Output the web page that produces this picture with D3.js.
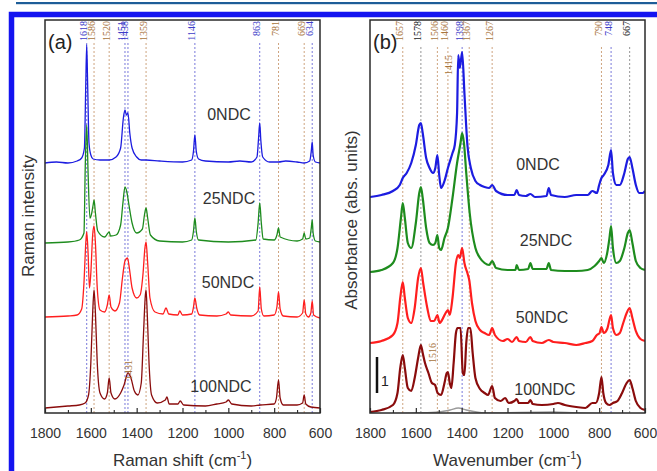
<!DOCTYPE html>
<html><head><meta charset="utf-8">
<script src="https://cdn.jsdelivr.net/npm/d3@7"></script>
<style>body{margin:0;background:#fff}svg{display:block}</style>
</head><body>
<svg id="c" width="657" height="471"></svg>
<script>
// ---------------- DATA ----------------
const xTicksMajor = [1800,1600,1400,1200,1000,800,600];
const xTicksMinor = [1700,1500,1300,1100,900,700];
const seriesNames = ["0NDC","25NDC","50NDC","100NDC"];

// Panel (a) Raman spectra: [Raman shift, stacked intensity]
const ramanNDC0 = [[1800,250],[1750,251],[1700,250],[1660,252],[1640,255],[1628,265],[1622,330],[1618,368],[1614,330],[1608,270],[1600,258],[1590,254],[1560,253],[1520,253],[1490,256],[1470,265],[1458,295],[1451,303],[1445,298],[1438,300],[1430,280],[1420,265],[1400,256],[1380,253],[1359,253],[1300,252],[1200,251],[1160,253],[1152,262],[1146,278],[1140,262],[1130,254],[1100,252],[1000,251],[950,252],[900,251],[875,256],[868,275],[863,290],[858,272],[850,256],[820,251],[781,251],[750,252],[700,251],[669,250],[645,252],[638,262],[634,271],[630,258],[620,251],[600,250]];
const ramanNDC25 = [[1800,170],[1700,171],[1650,173],[1630,180],[1624,250],[1618,288],[1612,240],[1604,195],[1596,200],[1590,208],[1586,213],[1580,200],[1570,182],[1540,176],[1525,180],[1520,181],[1514,177],[1490,178],[1470,188],[1460,210],[1451,226],[1442,220],[1435,210],[1420,190],[1400,180],[1375,184],[1366,198],[1359,205],[1352,195],[1340,178],[1300,172],[1200,171],[1160,173],[1152,182],[1146,195],[1140,182],[1130,173],[1000,171],[880,173],[870,190],[863,210],[856,190],[848,174],[800,173],[788,178],[781,185],[774,176],[700,172],[676,174],[669,180],[662,174],[645,175],[638,185],[634,193],[630,180],[620,172],[600,171]];
const ramanNDC50 = [[1800,96],[1700,97],[1660,98],[1640,104],[1630,130],[1622,170],[1618,181],[1612,160],[1606,125],[1600,140],[1592,178],[1586,187],[1580,170],[1572,125],[1560,103],[1540,101],[1528,108],[1520,118],[1512,106],[1495,102],[1475,110],[1462,135],[1451,152],[1440,155],[1432,145],[1420,125],[1400,115],[1385,118],[1372,140],[1364,165],[1359,171],[1352,150],[1342,115],[1320,101],[1285,99],[1272,105],[1260,99],[1220,98],[1212,102],[1200,98],[1160,99],[1152,106],[1146,115],[1138,105],[1125,98],[1050,97],[1010,99],[1000,101],[990,98],[900,97],[870,102],[863,126],[856,104],[845,97],[800,98],[788,106],[781,121],[774,104],[760,97],[700,96],[676,100],[669,113],[662,99],[650,96],[640,100],[634,112],[628,98],[600,95]];
const ramanNDC100 = [[1800,5],[1700,7],[1650,8],[1625,10],[1610,18],[1600,50],[1592,100],[1586,123],[1580,100],[1572,50],[1560,20],[1540,14],[1528,20],[1520,35],[1512,20],[1495,14],[1470,20],[1455,28],[1438,40],[1425,35],[1410,22],[1395,18],[1380,30],[1370,80],[1362,118],[1359,123],[1354,100],[1345,45],[1335,18],[1310,10],[1275,13],[1268,16],[1258,9],[1220,9],[1210,12],[1195,8],[1100,7],[1050,9],[1010,11],[1000,13],[985,9],[900,7],[860,8],[800,9],[790,15],[781,33],[774,15],[760,8],[700,8],[676,10],[669,18],[662,9],[640,6],[600,5]];

// Panel (b) IR absorbance spectra: [wavenumber, stacked absorbance]
const irNDC0 = [[1800,216],[1750,218],[1700,222],[1670,228],[1657,235],[1640,240],[1620,250],[1600,268],[1585,288],[1578,290],[1570,280],[1555,255],[1540,245],[1525,240],[1515,245],[1506,258],[1498,238],[1490,225],[1475,232],[1460,245],[1440,260],[1430,268],[1420,300],[1415,358],[1408,345],[1398,361],[1388,320],[1375,268],[1360,245],[1340,232],[1320,228],[1300,226],[1280,225],[1267,228],[1250,222],[1200,218],[1170,218],[1160,223],[1150,218],[1120,217],[1100,219],[1080,216],[1030,217],[1020,225],[1010,218],[950,216],[900,218],[850,218],[830,222],[810,220],[800,228],[790,235],[780,238],[760,248],[748,263],[740,240],[725,228],[710,228],[690,240],[675,254],[667,256],[655,245],[640,228],[625,220],[610,220],[600,222]];
const irNDC25 = [[1800,141],[1750,143],[1700,150],[1680,165],[1665,195],[1657,210],[1648,195],[1635,170],[1620,165],[1600,190],[1585,220],[1578,226],[1570,215],[1555,185],[1540,170],[1525,168],[1515,170],[1506,178],[1498,165],[1490,163],[1475,175],[1460,185],[1440,215],[1420,250],[1405,270],[1398,280],[1390,270],[1380,240],[1365,200],[1340,165],[1320,155],[1300,150],[1280,148],[1267,152],[1250,145],[1200,143],[1165,143],[1160,148],[1150,143],[1110,144],[1100,150],[1090,144],[1030,144],[1020,150],[1010,143],[950,142],[900,142],[850,143],[820,147],[800,152],[790,155],[780,150],[765,160],[755,175],[748,187],[740,165],[725,150],[710,152],[690,165],[675,180],[667,183],[655,170],[640,152],[620,145],[600,143]];
const irNDC50 = [[1800,70],[1750,72],[1700,78],[1680,90],[1668,115],[1657,131],[1648,115],[1635,95],[1620,90],[1605,105],[1590,135],[1578,145],[1568,130],[1550,105],[1535,92],[1520,92],[1506,98],[1496,90],[1488,92],[1470,100],[1460,103],[1452,98],[1440,115],[1425,150],[1415,158],[1408,155],[1398,165],[1388,150],[1375,140],[1367,133],[1355,110],[1340,92],[1320,83],[1300,80],[1280,78],[1267,85],[1255,78],[1220,72],[1200,74],[1180,71],[1160,76],[1150,72],[1120,71],[1100,76],[1090,72],[1050,70],[1020,73],[1000,71],[950,70],[900,68],[860,70],[830,72],[810,78],[798,80],[790,86],[780,80],[765,84],[748,98],[740,85],[725,78],[710,80],[695,90],[680,100],[667,105],[655,95],[640,82],[620,74],[600,72]];
const irNDC100 = [[1800,1],[1750,3],[1700,8],[1680,20],[1668,45],[1657,58],[1648,45],[1635,25],[1620,22],[1605,35],[1590,55],[1578,68],[1570,60],[1560,50],[1545,40],[1530,30],[1516,28],[1505,20],[1490,18],[1475,30],[1465,40],[1460,41],[1452,30],[1445,25],[1435,50],[1425,80],[1418,85],[1405,85],[1395,40],[1388,38],[1380,70],[1372,85],[1362,85],[1352,60],[1340,35],[1320,24],[1300,20],[1285,18],[1267,27],[1255,15],[1230,12],[1210,15],[1195,10],[1170,12],[1160,14],[1150,10],[1110,10],[1100,13],[1090,9],[1050,8],[1000,9],[980,10],[950,8],[900,6],[860,5],[830,10],[815,10],[800,20],[790,36],[782,20],[770,10],[755,8],[740,10],[720,12],[700,20],[680,30],[667,33],[655,25],[640,12],[620,5],[600,3]];
const irReference = [[1800,-1],[1600,0],[1500,1],[1450,3],[1415,5],[1380,3],[1300,0],[1000,1],[900,0],[600,-1]];

// Peak assignments (value, group)
const peaksA = [1618,1586,1520,1451,1438,1359,1146,863,781,669,634];
const peakGroupsA = ["b","o","o","b","b","o","b","b","o","o","b"];
const peaksB = [1657,1578,1506,1460,1398,1367,1267,790,748,667];
const peakGroupsB = ["o","k","o","o","b","o","o","o","b","k"];
const extraLabelsA = [1431];
const extraLabelsB = [1415,1516];
const scaleBarValue = "1";

// ---------------- STYLE / LAYOUT ----------------
const svg = d3.select("#c");
const W = 657, H = 471;
const yTop = 20, yBot = 413;
const y = d3.scaleLinear().domain([0,393]).range([yBot, yTop]);
const panels = [
  {id:"a", x: d3.scaleLinear().domain([1800,600]).range([45,320]), series:[ramanNDC0,ramanNDC25,ramanNDC50,ramanNDC100], lw:1.3,
   peaks:peaksA, groups:peakGroupsA, title:"Raman shift", ytitle:"Raman intensity",
   ytx:34, yty:216, nameX:[229,229,228,221], nameY:[120,204,288,392], lineTop:43},
  {id:"b", x: d3.scaleLinear().domain([1800,600]).range([370,645]), series:[irNDC0,irNDC25,irNDC50,irNDC100], lw:2.2,
   peaks:peaksB, groups:peakGroupsB, title:"Wavenumber", ytitle:"Absorbance (abs. units)",
   ytx:357, yty:220, nameX:[538,546,542,545], nameY:[170,246,323,395], lineTop:47}
];
const specColors = ["#1c1ce0","#1e8c1e","#ff1e1e","#8a0c0c"];
const lineCol = {b:"#6a6ad6", o:"#c89a72", k:"#8a8a8a"};
const textCol = {b:"#3c3cc8", o:"#a8743c", k:"#222"};

// top rule and blue frame
svg.append("rect").attr("x",16).attr("y",2).attr("width",W-16).attr("height",2.2).attr("fill","#1d5d98");
svg.append("rect").attr("x",11.5).attr("y",14.5).attr("width",800).attr("height",600)
   .attr("fill","none").attr("stroke","#1414f0").attr("stroke-width",5.5);

const defs = svg.append("defs");

panels.forEach(p => {
  const x = p.x;
  const [x0,x1] = x.range();
  defs.append("clipPath").attr("id","clip"+p.id).append("rect")
      .attr("x",x0).attr("y",yTop).attr("width",x1-x0).attr("height",yBot-yTop);
  const g = svg.append("g");

  p.peaks.forEach((pk,i) => {
    g.append("line").attr("x1",x(pk)).attr("x2",x(pk)).attr("y1",p.lineTop).attr("y2",yBot)
      .attr("stroke",lineCol[p.groups[i]]).attr("stroke-width",0.9).attr("stroke-dasharray","2,2");
  });

  const line = d3.line().x(d=>x(d[0])).y(d=>y(d[1])).curve(d3.curveMonotoneX);
  const sg = g.append("g").attr("clip-path","url(#clip"+p.id+")");
  if (p.id==="b") {
    sg.append("path").datum(irReference).attr("d",line).attr("fill","none")
      .attr("stroke","#9a9a9a").attr("stroke-width",1.5);
  }
  p.series.forEach((s,i) => {
    sg.append("path").datum(s).attr("d",line).attr("fill","none")
      .attr("stroke",specColors[i]).attr("stroke-width",p.lw).attr("stroke-linejoin","round");
  });

  g.append("rect").attr("x",x0).attr("y",yTop).attr("width",x1-x0).attr("height",yBot-yTop)
    .attr("fill","none").attr("stroke","#2a2a2a").attr("stroke-width",1.5);

  const ax = g.append("g").attr("transform",`translate(0,${yBot})`)
    .call(d3.axisBottom(x).tickValues(xTicksMajor).tickSizeInner(-5).tickSizeOuter(0).tickPadding(15).tickFormat(d3.format("d")));
  ax.select(".domain").remove();
  ax.selectAll("line").attr("stroke","#2a2a2a").attr("stroke-width",1.2);
  ax.selectAll("text").attr("font-family","Liberation Sans, Arial, sans-serif").attr("font-size",14).attr("fill","#333");
  const axm = g.append("g").attr("transform",`translate(0,${yBot})`)
    .call(d3.axisBottom(x).tickValues(xTicksMinor).tickSizeInner(-3).tickSizeOuter(0).tickFormat(""));
  axm.select(".domain").remove();
  axm.selectAll("line").attr("stroke","#2a2a2a").attr("stroke-width",1.1);

  const xt = g.append("text").attr("x",(x0+x1)/2).attr("y",466).attr("text-anchor","middle")
    .attr("font-family","Liberation Sans, Arial, sans-serif").attr("font-size",17).attr("fill","#333");
  xt.append("tspan").text(p.title+" (cm");
  xt.append("tspan").attr("dy",-7).attr("font-size",11).text("-1");
  xt.append("tspan").attr("dy",7).text(")");

  g.append("text").attr("transform",`translate(${p.ytx},${p.yty}) rotate(-90)`).attr("text-anchor","middle")
    .attr("font-family","Liberation Sans, Arial, sans-serif").attr("font-size",17).attr("fill","#333").text(p.ytitle);

  g.append("text").attr("x",x0+3).attr("y",49).attr("font-family","Liberation Sans, Arial, sans-serif")
    .attr("font-size",20).attr("fill","#222").text("("+p.id+")");

  p.peaks.forEach((pk,i) => {
    g.append("text").attr("transform",`translate(${x(pk)+0.5},21) rotate(-90)`).attr("text-anchor","end")
      .attr("font-family","Liberation Serif, Times New Roman, serif").attr("font-size",10)
      .attr("fill",textCol[p.groups[i]]).text(pk);
  });

  seriesNames.forEach((n,i) => {
    g.append("text").attr("x",p.nameX[i]).attr("y",p.nameY[i]).attr("text-anchor","middle")
      .attr("font-family","Liberation Sans, Arial, sans-serif").attr("font-size",16).attr("fill","#333").text(n);
  });
});

const xa = panels[0].x, xb = panels[1].x;
const serifAttrs = sel => sel.attr("font-family","Liberation Serif, Times New Roman, serif").attr("font-size",10).attr("fill",textCol.o).attr("text-anchor","middle");
svg.append("text").attr("transform",`translate(${xa(extraLabelsA[0])+2},370) rotate(-90)`).call(serifAttrs).text(extraLabelsA[0]);
svg.append("text").attr("transform",`translate(${xb(extraLabelsB[0])-6},65) rotate(-90)`).call(serifAttrs).text(extraLabelsB[0]);
svg.append("text").attr("transform",`translate(${xb(extraLabelsB[1])+1},353) rotate(-90)`).call(serifAttrs).text(extraLabelsB[1]);

svg.append("line").attr("x1",377).attr("x2",377).attr("y1",y(20)).attr("y2",y(56)).attr("stroke","#111").attr("stroke-width",2.5);
svg.append("text").attr("x",381).attr("y",386).attr("font-family","Liberation Sans, Arial, sans-serif").attr("font-size",14).attr("fill","#222").text(scaleBarValue);
</script>
</body></html>
